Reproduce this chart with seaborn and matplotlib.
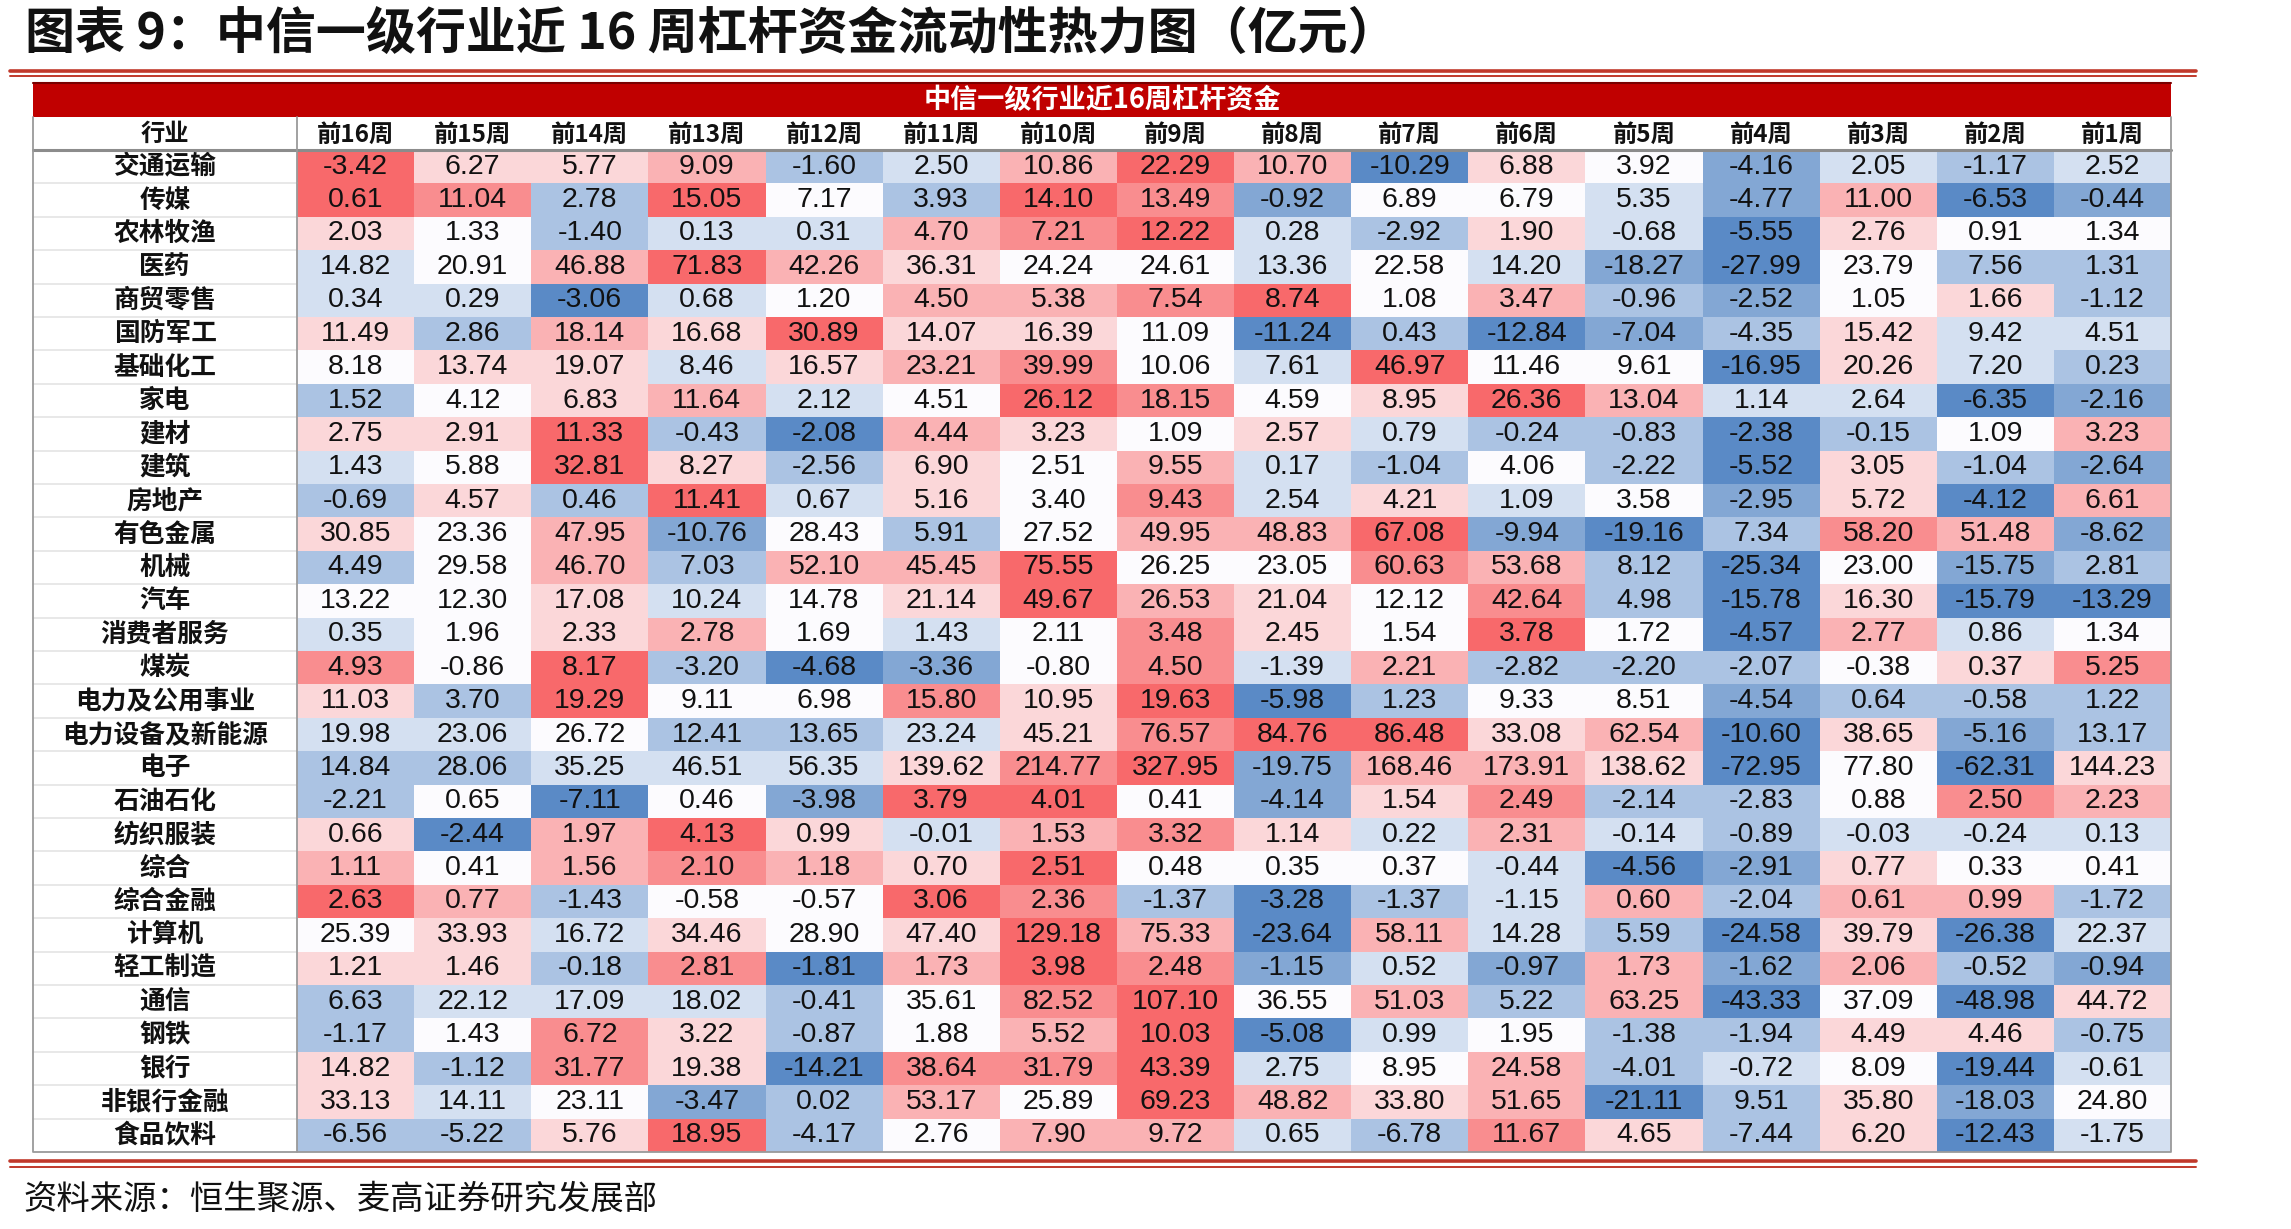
import numpy as np
import pandas as pd
import matplotlib
matplotlib.use("Agg")
import matplotlib.pyplot as plt
import matplotlib.font_manager as fm
from matplotlib.colors import LinearSegmentedColormap
from matplotlib.lines import Line2D
from matplotlib.patches import Rectangle
import seaborn as sns

# ---------------- data ----------------
industries = ["交通运输", "传媒", "农林牧渔", "医药", "商贸零售", "国防军工", "基础化工", "家电",
              "建材", "建筑", "房地产", "有色金属", "机械", "汽车", "消费者服务", "煤炭",
              "电力及公用事业", "电力设备及新能源", "电子", "石油石化", "纺织服装", "综合",
              "综合金融", "计算机", "轻工制造", "通信", "钢铁", "银行", "非银行金融", "食品饮料"]

weeks = ["前16周", "前15周", "前14周", "前13周", "前12周", "前11周", "前10周", "前9周",
         "前8周", "前7周", "前6周", "前5周", "前4周", "前3周", "前2周", "前1周"]

values = [
    [-3.42, 6.27, 5.77, 9.09, -1.60, 2.50, 10.86, 22.29, 10.70, -10.29, 6.88, 3.92, -4.16, 2.05, -1.17, 2.52],
    [0.61, 11.04, 2.78, 15.05, 7.17, 3.93, 14.10, 13.49, -0.92, 6.89, 6.79, 5.35, -4.77, 11.00, -6.53, -0.44],
    [2.03, 1.33, -1.40, 0.13, 0.31, 4.70, 7.21, 12.22, 0.28, -2.92, 1.90, -0.68, -5.55, 2.76, 0.91, 1.34],
    [14.82, 20.91, 46.88, 71.83, 42.26, 36.31, 24.24, 24.61, 13.36, 22.58, 14.20, -18.27, -27.99, 23.79, 7.56, 1.31],
    [0.34, 0.29, -3.06, 0.68, 1.20, 4.50, 5.38, 7.54, 8.74, 1.08, 3.47, -0.96, -2.52, 1.05, 1.66, -1.12],
    [11.49, 2.86, 18.14, 16.68, 30.89, 14.07, 16.39, 11.09, -11.24, 0.43, -12.84, -7.04, -4.35, 15.42, 9.42, 4.51],
    [8.18, 13.74, 19.07, 8.46, 16.57, 23.21, 39.99, 10.06, 7.61, 46.97, 11.46, 9.61, -16.95, 20.26, 7.20, 0.23],
    [1.52, 4.12, 6.83, 11.64, 2.12, 4.51, 26.12, 18.15, 4.59, 8.95, 26.36, 13.04, 1.14, 2.64, -6.35, -2.16],
    [2.75, 2.91, 11.33, -0.43, -2.08, 4.44, 3.23, 1.09, 2.57, 0.79, -0.24, -0.83, -2.38, -0.15, 1.09, 3.23],
    [1.43, 5.88, 32.81, 8.27, -2.56, 6.90, 2.51, 9.55, 0.17, -1.04, 4.06, -2.22, -5.52, 3.05, -1.04, -2.64],
    [-0.69, 4.57, 0.46, 11.41, 0.67, 5.16, 3.40, 9.43, 2.54, 4.21, 1.09, 3.58, -2.95, 5.72, -4.12, 6.61],
    [30.85, 23.36, 47.95, -10.76, 28.43, 5.91, 27.52, 49.95, 48.83, 67.08, -9.94, -19.16, 7.34, 58.20, 51.48, -8.62],
    [4.49, 29.58, 46.70, 7.03, 52.10, 45.45, 75.55, 26.25, 23.05, 60.63, 53.68, 8.12, -25.34, 23.00, -15.75, 2.81],
    [13.22, 12.30, 17.08, 10.24, 14.78, 21.14, 49.67, 26.53, 21.04, 12.12, 42.64, 4.98, -15.78, 16.30, -15.79, -13.29],
    [0.35, 1.96, 2.33, 2.78, 1.69, 1.43, 2.11, 3.48, 2.45, 1.54, 3.78, 1.72, -4.57, 2.77, 0.86, 1.34],
    [4.93, -0.86, 8.17, -3.20, -4.68, -3.36, -0.80, 4.50, -1.39, 2.21, -2.82, -2.20, -2.07, -0.38, 0.37, 5.25],
    [11.03, 3.70, 19.29, 9.11, 6.98, 15.80, 10.95, 19.63, -5.98, 1.23, 9.33, 8.51, -4.54, 0.64, -0.58, 1.22],
    [19.98, 23.06, 26.72, 12.41, 13.65, 23.24, 45.21, 76.57, 84.76, 86.48, 33.08, 62.54, -10.60, 38.65, -5.16, 13.17],
    [14.84, 28.06, 35.25, 46.51, 56.35, 139.62, 214.77, 327.95, -19.75, 168.46, 173.91, 138.62, -72.95, 77.80, -62.31, 144.23],
    [-2.21, 0.65, -7.11, 0.46, -3.98, 3.79, 4.01, 0.41, -4.14, 1.54, 2.49, -2.14, -2.83, 0.88, 2.50, 2.23],
    [0.66, -2.44, 1.97, 4.13, 0.99, -0.01, 1.53, 3.32, 1.14, 0.22, 2.31, -0.14, -0.89, -0.03, -0.24, 0.13],
    [1.11, 0.41, 1.56, 2.10, 1.18, 0.70, 2.51, 0.48, 0.35, 0.37, -0.44, -4.56, -2.91, 0.77, 0.33, 0.41],
    [2.63, 0.77, -1.43, -0.58, -0.57, 3.06, 2.36, -1.37, -3.28, -1.37, -1.15, 0.60, -2.04, 0.61, 0.99, -1.72],
    [25.39, 33.93, 16.72, 34.46, 28.90, 47.40, 129.18, 75.33, -23.64, 58.11, 14.28, 5.59, -24.58, 39.79, -26.38, 22.37],
    [1.21, 1.46, -0.18, 2.81, -1.81, 1.73, 3.98, 2.48, -1.15, 0.52, -0.97, 1.73, -1.62, 2.06, -0.52, -0.94],
    [6.63, 22.12, 17.09, 18.02, -0.41, 35.61, 82.52, 107.10, 36.55, 51.03, 5.22, 63.25, -43.33, 37.09, -48.98, 44.72],
    [-1.17, 1.43, 6.72, 3.22, -0.87, 1.88, 5.52, 10.03, -5.08, 0.99, 1.95, -1.38, -1.94, 4.49, 4.46, -0.75],
    [14.82, -1.12, 31.77, 19.38, -14.21, 38.64, 31.79, 43.39, 2.75, 8.95, 24.58, -4.01, -0.72, 8.09, -19.44, -0.61],
    [33.13, 14.11, 23.11, -3.47, 0.02, 53.17, 25.89, 69.23, 48.82, 33.80, 51.65, -21.11, 9.51, 35.80, -18.03, 24.80],
    [-6.56, -5.22, 5.76, 18.95, -4.17, 2.76, 7.90, 9.72, 0.65, -6.78, 11.67, 4.65, -7.44, 6.20, -12.43, -1.75],
]

# colour intensity (-4 deep blue ... 0 white ... +4 deep red)
color_levels = [
    [4, 1, 1, 2, -2, -1, 2, 4, 2, -4, 1, 0, -3, -1, -2, -1],
    [4, 3, -2, 4, 0, -2, 4, 3, -3, 0, 0, -1, -3, 2, -4, -3],
    [1, 0, -2, -1, -1, 2, 3, 4, -1, -2, 1, -1, -4, 1, 0, 0],
    [-1, 0, 2, 4, 2, 1, 0, 0, -1, 0, -1, -3, -4, 0, -2, -2],
    [-1, -1, -4, -1, 0, 2, 2, 3, 4, 0, 2, -2, -3, 0, 1, -2],
    [1, -2, 2, 1, 4, 1, 1, 0, -4, -2, -4, -3, -2, 1, -1, -1],
    [0, 1, 1, -1, 1, 2, 3, 0, -1, 4, 0, 0, -4, 1, -1, -2],
    [-2, 0, 1, 2, -1, 0, 4, 3, 0, 1, 4, 2, -1, -1, -4, -3],
    [1, 1, 4, -2, -4, 2, 1, 0, 1, -1, -2, -2, -4, -2, 0, 2],
    [-1, 0, 4, 1, -2, 1, 0, 2, -1, -2, 0, -2, -4, 1, -2, -3],
    [-2, 1, -2, 4, -1, 1, 0, 3, -1, 1, -1, 0, -3, 1, -4, 2],
    [1, 0, 2, -3, 0, -2, 0, 2, 2, 4, -3, -4, -2, 3, 2, -3],
    [-2, 0, 2, -2, 2, 2, 4, 0, 0, 3, 2, -2, -4, 0, -3, -2],
    [0, 0, 1, -1, 0, 1, 4, 2, 1, 0, 3, -2, -4, 1, -4, -4],
    [-1, 0, 1, 2, 0, -1, 0, 3, 1, 0, 4, 0, -4, 2, -1, 0],
    [3, 0, 4, -2, -4, -3, 0, 3, -1, 2, -2, -2, -2, 0, 1, 3],
    [1, -2, 4, 0, 0, 3, 1, 4, -4, -2, 0, 0, -3, -2, -2, -2],
    [-1, -1, 0, -2, -2, -1, 1, 3, 4, 4, 1, 2, -4, 1, -3, -2],
    [-2, -2, -1, -1, -1, 1, 3, 4, -3, 2, 2, 1, -4, 0, -4, 1],
    [-2, 0, -4, 0, -3, 4, 4, 0, -3, 1, 3, -2, -2, 0, 3, 2],
    [1, -4, 2, 4, 1, -1, 2, 3, 1, -1, 2, -1, -2, -1, -1, -1],
    [2, 0, 2, 3, 2, 1, 4, 0, 0, 0, -1, -4, -3, 1, 0, 0],
    [4, 2, -2, 0, 0, 4, 3, -2, -4, -2, -1, 2, -2, 2, 2, -2],
    [0, 1, -1, 1, 0, 1, 4, 2, -4, 2, -1, -2, -4, 1, -4, -1],
    [1, 1, -2, 3, -4, 2, 4, 3, -3, -1, -3, 2, -3, 2, -2, -3],
    [-2, -1, -1, -1, -2, 0, 3, 4, 0, 2, -2, 2, -4, 0, -4, 1],
    [-2, 0, 3, 1, -2, 0, 2, 4, -4, -1, 0, -2, -2, 1, 1, -2],
    [1, -2, 3, 1, -4, 3, 3, 4, -1, 0, 2, -2, -1, 0, -4, -1],
    [1, -1, 0, -3, -2, 2, 0, 4, 2, 1, 2, -4, -2, 1, -3, 0],
    [-2, -2, 1, 4, -2, 0, 2, 2, -1, -2, 3, 1, -2, 1, -4, -1],
]

title = "图表 9：中信一级行业近 16 周杠杆资金流动性热力图（亿元）"
band_text = "中信一级行业近16周杠杆资金"
corner_label = "行业"
source = "资料来源：恒生聚源、麦高证券研究发展部"

# ---------------- style ----------------
sns.set_theme(style="white")
plt.rcParams["font.family"] = ["Noto Sans CJK SC", "DejaVu Sans"]
installed = {f.name for f in fm.fontManager.ttflist}
num_font = "Liberation Sans Narrow" if "Liberation Sans Narrow" in installed else "Liberation Sans"

W, H = 2291, 1229
fig = plt.figure(figsize=(W / 100, H / 100), dpi=100)


def fx(px):
    return px / W


def fy(py):
    return 1 - py / H


# table geometry (pixels)
tab_l, lab_r, tab_r = 33, 297, 2171
band_t, band_b, head_b, tab_b = 83, 117, 150, 1152

ax = fig.add_axes([fx(lab_r), fy(tab_b), fx(tab_r - lab_r), (tab_b - head_b) / H])

df_lvl = pd.DataFrame(color_levels, index=industries, columns=weeks)
df_val = pd.DataFrame(values, index=industries, columns=weeks)
cmap = LinearSegmentedColormap.from_list("excel3", ["#5A8AC6", "#FCFCFF", "#F8696B"])

num_size = 22 if num_font == "Liberation Sans Narrow" else 20.5
sns.heatmap(df_lvl, ax=ax, cmap=cmap, vmin=-4, vmax=4, cbar=False,
            annot=df_val.values, fmt=".2f", linewidths=0,
            annot_kws={"fontsize": num_size, "color": "#111111", "family": [num_font, "DejaVu Sans"]},
            xticklabels=weeks, yticklabels=industries)

ax.xaxis.tick_top()
ax.tick_params(axis="x", length=0, pad=11)
ax.tick_params(axis="y", length=0, pad=95)
for t in ax.get_xticklabels():
    t.set_fontsize(17.5)
    t.set_fontweight("bold")
    t.set_rotation(0)
    t.set_va("center")
    t.set_color("#111111")
for t in ax.get_yticklabels():
    t.set_fontsize(18.5)
    t.set_fontweight("bold")
    t.set_rotation(0)
    t.set_ha("center")
    t.set_color("#111111")
ax.set_xlabel("")
ax.set_ylabel("")
for s in ax.spines.values():
    s.set_visible(False)

# ---------------- table decoration ----------------
# red band
fig.add_artist(Rectangle((fx(tab_l), fy(band_b)), fx(tab_r - tab_l), (band_b - band_t) / H,
                         transform=fig.transFigure, facecolor="#C00000", edgecolor="none", zorder=0))
fig.add_artist(Line2D([fx(tab_l), fx(tab_r)], [fy(band_t), fy(band_t)], transform=fig.transFigure,
                      color="#7A0000", lw=1.5))
fig.text(fx((tab_l + tab_r) / 2), fy((band_t + band_b) / 2), band_text, color="white",
         fontsize=19.5, fontweight="bold", ha="center", va="center")
fig.text(fx((tab_l + lab_r) / 2), fy((band_b + head_b) / 2), corner_label, color="#111111",
         fontsize=17.5, fontweight="bold", ha="center", va="center")

n_rows = len(industries)
row_h = (tab_b - head_b) / n_rows
for i in range(1, n_rows):
    yy = head_b + i * row_h
    fig.add_artist(Line2D([fx(tab_l), fx(lab_r)], [fy(yy), fy(yy)], transform=fig.transFigure,
                          color="#E4E4E4", lw=1.2))

gray = "#9A9A9A"
fig.add_artist(Line2D([fx(tab_l), fx(tab_r)], [fy(head_b), fy(head_b)], transform=fig.transFigure,
                      color="#8C8C8C", lw=2.2))
fig.add_artist(Line2D([fx(lab_r), fx(lab_r)], [fy(band_b), fy(tab_b)], transform=fig.transFigure,
                      color=gray, lw=1.3))
fig.add_artist(Line2D([fx(tab_l), fx(tab_l), fx(tab_r), fx(tab_r)],
                      [fy(band_b), fy(tab_b), fy(tab_b), fy(band_b)], transform=fig.transFigure,
                      color=gray, lw=1.3))

# title + double rules
fig.text(fx(25), fy(34), title, fontsize=36, fontweight="bold", color="#111111",
         ha="left", va="center")
line_red = "#C0392B"
for yy, lw in [(71, 2.6), (76, 1.4)]:
    fig.add_artist(Line2D([fx(10), fx(2196)], [fy(yy), fy(yy)], transform=fig.transFigure,
                          color=line_red, lw=lw))
for yy, lw in [(1161, 2.6), (1167, 1.4)]:
    fig.add_artist(Line2D([fx(10), fx(2196)], [fy(yy), fy(yy)], transform=fig.transFigure,
                          color=line_red, lw=lw))

fig.text(fx(23), fy(1199), source, fontsize=24, color="#111111", ha="left", va="center")

fig.savefig("out.png", dpi=100)
